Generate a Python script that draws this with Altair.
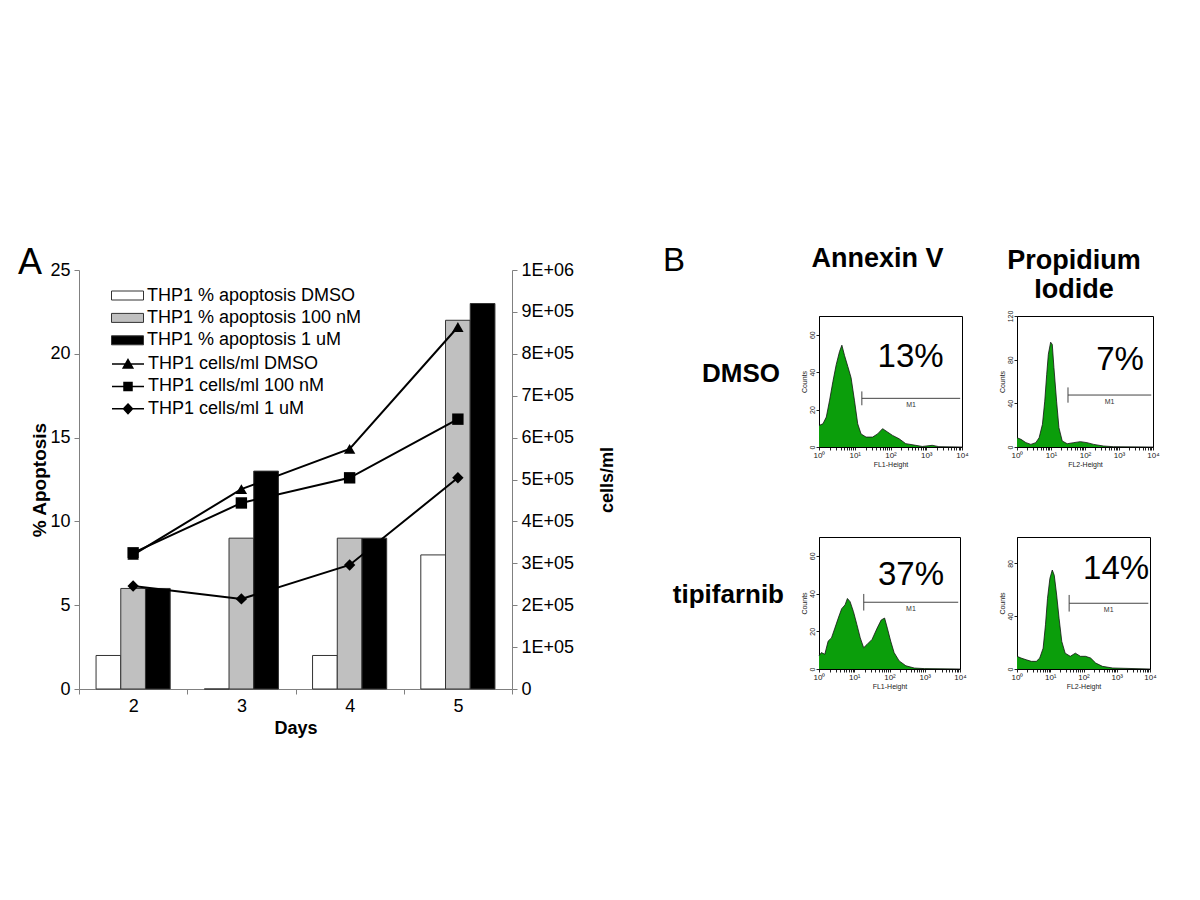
import json
import altair as alt
import pandas as pd

FONT = "Liberation Sans"

# ---------------- Panel A data ----------------
days = ["2", "3", "4", "5"]
apop_series = ["THP1 % apoptosis DMSO", "THP1 % apoptosis 100 nM", "THP1 % apoptosis 1 uM"]
cell_series = ["THP1 cells/ml DMSO", "THP1 cells/ml 100 nM", "THP1 cells/ml 1 uM"]
apop_dmso = [2, 0, 2, 8]
apop_100nm = [6, 9, 9, 22]
apop_1um = [6, 13, 9, 23]
cells_dmso = [320000, 477000, 573000, 864000]
cells_100nm = [325000, 444000, 504000, 644000]
cells_1um = [246000, 215000, 296000, 504000]
apop_ticks = [0, 5, 10, 15, 20, 25]
cell_ticks = [0, 100000, 200000, 300000, 400000, 500000, 600000, 700000, 800000, 900000, 1000000]

# ---------------- Panel B data ----------------
annexin_dmso_fl = [1, 1.29, 1.6, 1.98, 2.45, 3.03, 3.75, 4.36, 5.16, 6.4, 7.9, 9.8, 12.1, 15, 20.7, 31.6,
                   43.6, 60, 82.6, 114, 174, 267, 506, 774, 1470, 2250, 10000]
annexin_dmso_counts = [11.5, 12.4, 16, 25, 35, 44, 51, 54.4, 49, 43, 37, 25, 12.4, 7, 5.3, 5.3,
                       7, 9.8, 8, 6.2, 4.4, 1.8, 0.9, 0.3, 0.9, 0.2, 0]
pi_dmso_fl = [1, 1.31, 1.83, 2.56, 3.57, 4.47, 5.6, 6.55, 7.48, 8.36, 9.77, 10.9, 12.2, 14.6, 17.1, 21.4,
              29.9, 46.8, 73.1, 114, 179, 350, 684, 10000]
pi_dmso_counts = [8.5, 7, 4, 2.4, 4, 8.5, 20.8, 42, 66.6, 85, 96, 94, 72.7, 42, 17.7, 5.5,
                  3, 4, 4.9, 4, 2.4, 0.9, 0.3, 0]
annexin_tipi_fl = [1, 1.17, 1.46, 1.82, 2.26, 2.82, 3.52, 4.4, 5.48, 6.4, 7.62, 9.5, 11.9, 14.8, 18.5, 23,
                   32, 44.7, 58.2, 72.6, 86.7, 108, 135, 188, 292, 507, 984, 10000]
annexin_tipi_counts = [7, 8.7, 7.8, 14.8, 16.5, 21.7, 27, 32, 34, 37.4, 35.7, 30.4, 23.5, 16.5, 11.3, 13,
                       15.7, 21.7, 26, 27, 21.7, 14.8, 8.7, 4.3, 1.7, 0.5, 0.2, 0]
pi_tipi_fl = [1, 1.32, 1.89, 2.69, 3.82, 4.83, 6.11, 7.19, 8.28, 9.77, 11.5, 13.2, 15.6, 18.4, 22.2, 28.1,
              40, 56.9, 80.9, 115, 164, 233, 372, 755, 10000]
pi_tipi_counts = [9.6, 8.3, 7, 5.8, 5.8, 8.3, 15.8, 33.5, 53.6, 68.7, 75, 71, 56, 38.5, 20.9, 12,
                  9.6, 12, 9.6, 9.6, 8.3, 4.5, 2, 0.75, 0]

# M1 gate: start, end, level, half-height of start tick (data units)
m1_annexin_dmso = [15.8, 8900, 26, 3.7]
m1_pi_dmso = [31.6, 8900, 47.6, 7]
m1_annexin_tipi = [18.6, 8900, 35.4, 4.4]
m1_pi_tipi = [37, 8900, 49.8, 6.3]

# percentage labels: fl position, counts position, text
pct_annexin_dmso = [365, 48, "13%"]
pct_pi_dmso = [1070, 80, "7%"]
pct_annexin_tipi = [407, 50, "37%"]
pct_pi_tipi = [955, 76, "14%"]

counts_ticks_70 = [0, 10, 20, 30, 40, 50, 60, 70]
counts_ticks_120 = [0, 20, 40, 60, 80, 100, 120]
counts_ticks_100 = [0, 20, 40, 60, 80, 100]
fl_ticks = [m * 10 ** k for k in range(4) for m in range(1, 10)] + [10000]
decades = [1, 10, 100, 1000, 10000]
decade_labels = ["10\u2070", "10\u00b9", "10\u00b2", "10\u00b3", "10\u2074"]

# ---------------- styles ----------------
series_all = apop_series + cell_series
series_fill = ["white", "#c0c0c0", "black", "black", "black", "black"]
RECT_PATH = "M-1.6,-0.45H1.6V0.45H-1.6Z"
line_legend_paths = [
    "M-1.6,0H1.6M0,-0.45L0.48,0.4L-0.48,0.4Z",
    "M-1.6,0H1.6M-0.4,-0.4H0.4V0.4H-0.4Z",
    "M-1.6,0H1.6M0,-0.48L0.45,0L0,0.48L-0.45,0Z",
]
marker_shapes = ["triangle-up", "square", "diamond"]
GREEN = "#0b9e0b"

# ---------------- Panel A ----------------
bar_rows = []
for s, vals in zip(apop_series, [apop_dmso, apop_100nm, apop_1um]):
    for d, v in zip(days, vals):
        bar_rows.append({"day": d, "series": s, "pct": v})
bar_df = pd.DataFrame(bar_rows)

cell_rows = []
for s, vals in zip(cell_series, [cells_dmso, cells_100nm, cells_1um]):
    for d, v in zip(days, vals):
        cell_rows.append({"day": d, "series": s, "cells": v})
cell_df = pd.DataFrame(cell_rows)

fill_scale = alt.Scale(domain=series_all, range=series_fill)

x_axis = alt.Axis(title="Days", titleFont=FONT, titleFontSize=18, titleFontWeight="bold", titleColor="black",
                  titlePadding=4, labelFont=FONT, labelFontSize=18, labelColor="black", labelAngle=0,
                  labelPadding=3, domainColor="#808080", tickColor="#808080", tickSize=5, tickBand="extent",
                  grid=False)
y_left_axis = alt.Axis(title="% Apoptosis", values=apop_ticks, titleFont=FONT, titleFontSize=19,
                       titleFontWeight="bold", titleColor="black", titlePadding=0, labelFont=FONT,
                       labelFontSize=18, labelColor="black", labelPadding=4, domainColor="#808080",
                       tickColor="#808080", tickSize=5, grid=False)
cell_label_expr = ("datum.value == 0 ? '0' : round(datum.value / pow(10, floor(log(datum.value) / LN10 + 0.000001)))"
                   " + 'E+0' + floor(log(datum.value) / LN10 + 0.000001)")
y_right_axis = alt.Axis(title="cells/ml", orient="right", values=cell_ticks, labelExpr=cell_label_expr,
                        titleFont=FONT, titleFontSize=18, titleFontWeight="bold", titleColor="black",
                        titleAngle=270, titlePadding=43, labelFont=FONT, labelFontSize=18, labelColor="black",
                        labelPadding=4, domainColor="#808080", tickColor="#808080", tickSize=5, grid=False)

LEG_X = 38
LEG_Y = 15
ROW_PAD = 2.4

bar_legend = alt.Legend(
    title=None, orient="none", legendX=LEG_X, legendY=LEG_Y, direction="vertical", values=apop_series,
    labelFont=FONT, labelFontSize=18, labelColor="black", labelLimit=500,
    symbolType=RECT_PATH, symbolSize=400, symbolStrokeWidth=1,
    labelOffset=9, rowPadding=ROW_PAD, padding=0,
)
line_legend = alt.Legend(
    title=None, orient="none", legendX=LEG_X, legendY=LEG_Y + 68, direction="vertical",
    labelFont=FONT, labelFontSize=18, labelColor="black", labelLimit=500,
    symbolSize=400, labelOffset=9, rowPadding=ROW_PAD, padding=0,
)

x_day = alt.X("day:N", sort=days, scale=alt.Scale(paddingInner=0, paddingOuter=0), axis=x_axis)

bars = alt.Chart(bar_df).mark_bar(stroke="#333333", strokeWidth=1).encode(
    x=x_day,
    xOffset=alt.XOffset("series:N", sort=apop_series, scale=alt.Scale(paddingInner=0, paddingOuter=0.69)),
    y=alt.Y("pct:Q", scale=alt.Scale(domain=[0, 25]), axis=y_left_axis),
    fill=alt.Fill("series:N", scale=fill_scale, legend=bar_legend),
)

lines = alt.Chart(cell_df).mark_line(color="black", strokeWidth=2).encode(
    x=alt.X("day:N", sort=days),
    y=alt.Y("cells:Q", scale=alt.Scale(domain=[0, 1000000]), axis=y_right_axis),
    detail="series:N",
)
points = alt.Chart(cell_df).mark_point(filled=True, opacity=1, size=130).encode(
    x=alt.X("day:N", sort=days),
    y=alt.Y("cells:Q", scale=alt.Scale(domain=[0, 1000000]), axis=y_right_axis),
    shape=alt.Shape("series:N", scale=alt.Scale(domain=cell_series, range=marker_shapes), legend=None),
    fill=alt.Fill("series:N", scale=fill_scale, legend=None),
)

legend_df = pd.DataFrame({"series": pd.Series([], dtype=str)})
line_legend_layer = alt.Chart(legend_df).mark_point(
    filled=True, color="black", stroke="black", strokeWidth=2, size=400, opacity=1
).encode(
    shape=alt.Shape("series:N", scale=alt.Scale(domain=cell_series, range=line_legend_paths),
                    legend=line_legend),
)

panel_a = alt.layer(bars, alt.layer(lines, points), line_legend_layer).resolve_scale(
    y="independent", shape="independent"
).properties(
    width=433, height=419,
    view=alt.ViewBackground(strokeWidth=0, strokeOpacity=0),
    title=alt.Title("A", anchor="start", frame="group", dx=-61, dy=49, offset=0, baseline="alphabetic",
                    fontSize=36, fontWeight="normal", font=FONT, color="black"),
)

# ---------------- Panel B ----------------
fl_label_expr = "indexof({d}, datum.value) >= 0 ? {l}[indexof({d}, datum.value)] : ''".format(
    d=json.dumps(decades), l=json.dumps(decade_labels, ensure_ascii=False))


def histogram(fl, counts, ymax, yticks, m1, pct, xtitle, w, h, title=None):
    df = pd.DataFrame({"fl": fl, "counts": counts})
    xs = alt.Scale(type="log", domain=[1, 10000])
    ys = alt.Scale(domain=[0, ymax], nice=False)
    xax = alt.Axis(values=fl_ticks, labelExpr=fl_label_expr, title=xtitle, titleFont=FONT, titleFontSize=7,
                   titleFontWeight="normal", titleColor="#222222", titlePadding=1, labelFont=FONT,
                   labelFontSize=8, labelColor="#222222", labelPadding=1, labelFlush=False, labelOverlap=False,
                   tickSize=3, tickColor="#222222", domainColor="black", grid=False)
    yax = alt.Axis(values=yticks, title="Counts", titleFont=FONT, titleFontSize=7, titleFontWeight="normal",
                   titleColor="#222222", titlePadding=1, labelFont=FONT, labelFontSize=7, labelAngle=270,
                   labelAlign="center", labelBaseline="bottom",
                   labelColor="#222222", labelPadding=1, labelFlush=False, labelOverlap=False,
                   labelBound=False, tickSize=3, tickColor="#222222", domainColor="black", grid=False)
    area = alt.Chart(df).mark_area(color=GREEN, fillOpacity=1,
                                   line={"color": "#111111", "strokeWidth": 0.8}).encode(
        x=alt.X("fl:Q", scale=xs, axis=xax),
        y=alt.Y("counts:Q", scale=ys, axis=yax),
    )
    m1df = pd.DataFrame({"start": [m1[0]], "end": [m1[1]], "lvl": [m1[2]],
                         "lo": [m1[2] - m1[3]], "hi": [m1[2] + m1[3]],
                         "mid": [(m1[0] * m1[1]) ** 0.5], "lbl": ["M1"]})
    hline = alt.Chart(m1df).mark_rule(color="#444444", strokeWidth=1).encode(
        x="start:Q", x2="end:Q", y="lvl:Q")
    vtick = alt.Chart(m1df).mark_rule(color="#444444", strokeWidth=1).encode(
        x="start:Q", y="lo:Q", y2="hi:Q")
    m1txt = alt.Chart(m1df).mark_text(fontSize=7, baseline="top", dy=3, color="#333333", font=FONT).encode(
        x="mid:Q", y="lvl:Q", text="lbl:N")
    pdf = pd.DataFrame({"px": [pct[0]], "py": [pct[1]], "t": [pct[2]]})
    ptxt = alt.Chart(pdf).mark_text(fontSize=33, font=FONT, color="black").encode(
        x="px:Q", y="py:Q", text="t:N")
    ch = alt.layer(area, hline, vtick, m1txt, ptxt).properties(
        width=w, height=h, view=alt.ViewBackground(stroke="black", strokeWidth=1))
    if title is not None:
        ch = ch.properties(title=title)
    return ch


def row_title(text, dy, offset):
    return alt.Title(text, orient="left", angle=0, align="left", baseline="middle", anchor="middle",
                     frame="group", offset=offset, dy=dy, fontSize=26, fontWeight="bold", font=FONT,
                     color="black")


h1 = histogram(annexin_dmso_fl, annexin_dmso_counts, 70, counts_ticks_70, m1_annexin_dmso, pct_annexin_dmso,
               "FL1-Height", 143, 131, row_title("DMSO", -8, 20))
h2 = histogram(pi_dmso_fl, pi_dmso_counts, 120, counts_ticks_120, m1_pi_dmso, pct_pi_dmso,
               "FL2-Height", 136, 131,
               alt.Title(["Propidium", "Iodide"], anchor="middle", baseline="alphabetic", offset=0, dy=15,
                         dx=-11, lineHeight=29, fontSize=27, fontWeight="bold", font=FONT, color="black"))
h3 = histogram(annexin_tipi_fl, annexin_tipi_counts, 70, counts_ticks_70, m1_annexin_tipi, pct_annexin_tipi,
               "FL1-Height", 141, 132, row_title("tipifarnib", -8, 16))
h4 = histogram(pi_tipi_fl, pi_tipi_counts, 100, counts_ticks_100, m1_pi_tipi, pct_pi_tipi,
               "FL2-Height", 133, 132)

grid = alt.concat(h1, h2, h3, h4, columns=2, spacing={"row": 90, "column": 55}, bounds="flush")

spacer = alt.Chart(pd.DataFrame({"v": [0]})).mark_point(opacity=0, size=1).properties(
    width=143, height=1,
    title=alt.Title("Annexin V", anchor="middle", frame="group", dx=-13, dy=24, offset=0, baseline="alphabetic",
                    fontSize=27, fontWeight="bold", font=FONT, color="black"),
)
panel_b = alt.vconcat(spacer, grid, spacing=45, bounds="flush").properties(
    title=alt.Title("B", anchor="start", frame="group", dx=-156, dy=59, offset=0, baseline="alphabetic",
                    fontSize=33, fontWeight="normal", font=FONT, color="black"),
)

chart = alt.hconcat(panel_a, panel_b, spacing=307, bounds="flush").properties(
    padding={"left": 10, "top": 237, "right": 5, "bottom": 5},
    background="white",
).configure(
    font=FONT,
    view=alt.ViewConfig(strokeWidth=0),
    axis=alt.AxisConfig(labelOverlap=False),
    axisY=alt.AxisConfig(labelOverlap=False),
)

chart.save("out.html", embed_options={"renderer": "svg", "actions": False})
